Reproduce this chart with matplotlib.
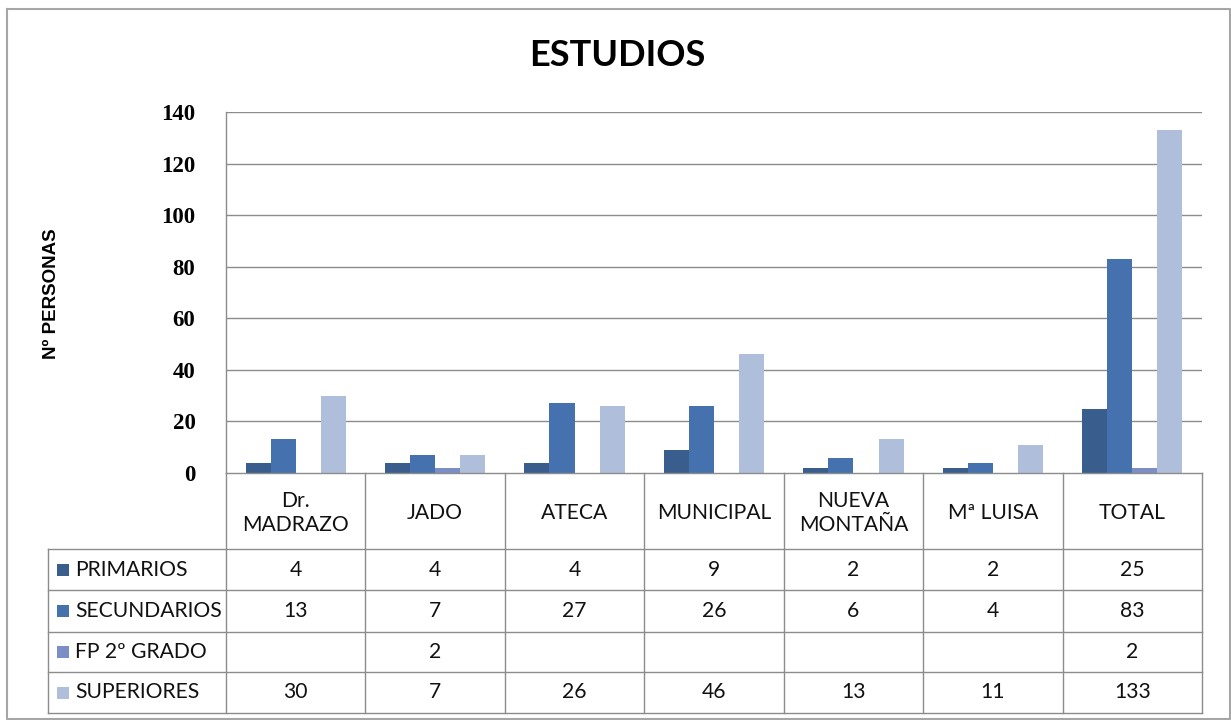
import matplotlib
matplotlib.use("Agg")
import matplotlib.pyplot as plt
import numpy as np

# data
centros = ["Dr.\nMADRAZO", "JADO", "ATECA", "MUNICIPAL", "NUEVA\nMONTAÑA", "Mª LUISA", "TOTAL"]
series = ["PRIMARIOS", "SECUNDARIOS", "FP 2º GRADO", "SUPERIORES"]
primarios = [4, 4, 4, 9, 2, 2, 25]
secundarios = [13, 7, 27, 26, 6, 4, 83]
fp_grado = [None, 2, None, None, None, None, 2]
superiores = [30, 7, 26, 46, 13, 11, 133]
yticks = [0, 20, 40, 60, 80, 100, 120, 140]

colores = ["#395E8E", "#4571AF", "#7B8FC6", "#AFBFDB"]
valores = [primarios, secundarios, fp_grado, superiores]

W, H = 1231, 720
fig = plt.figure(figsize=(W / 100, H / 100), dpi=100)

# layout in pixels
x_left, x_right = 226, 1202
y_top, y_zero = 112, 473
tab_left = 48
row_lines = [473, 549, 590, 632, 672, 713]
grid_col = "#8C8C8C"

ax = fig.add_axes([x_left / W, 1 - y_zero / H, (x_right - x_left) / W, (y_zero - y_top) / H])
n = len(centros)
x = np.arange(n) + 0.5
bw = 0.18
for i, (vals, col) in enumerate(zip(valores, colores)):
    h = [np.nan if v is None else v for v in vals]
    ax.bar(x + (i - 1.5) * bw, h, width=bw, color=col, zorder=3, linewidth=0)

ax.set_xlim(0, n)
ax.set_ylim(0, 140)
ax.set_yticks(yticks)
ax.set_yticklabels([str(t) for t in yticks], family="Liberation Serif",
                   fontweight="bold", fontsize=16.5)
ax.tick_params(axis="y", length=0, pad=22)
ax.set_xticks([])
for y in yticks[1:]:
    ax.axhline(y, color=grid_col, lw=1, zorder=1)
for s in ["top", "right", "bottom"]:
    ax.spines[s].set_visible(False)
ax.spines["left"].set_color(grid_col)
ax.spines["left"].set_linewidth(1)

# overlay in pixel coordinates for the data table and frame
ov = fig.add_axes([0, 0, 1, 1], zorder=5)
ov.set_xlim(0, W)
ov.set_ylim(H, 0)
ov.axis("off")
ov.patch.set_alpha(0)

ov.plot([7, 1230, 1230, 7, 7], [9, 9, 719, 719, 9], color="#A6A6A6", lw=1.5)

col_w = (x_right - x_left) / n
col_edges = [x_left + k * col_w for k in range(n + 1)]

# horizontal table lines
ov.plot([x_left, x_right], [row_lines[0], row_lines[0]], color=grid_col, lw=1)
for y in row_lines[1:]:
    ov.plot([tab_left, x_right], [y, y], color=grid_col, lw=1)
# vertical table lines
for xe in col_edges:
    ov.plot([xe, xe], [row_lines[0], row_lines[-1]], color=grid_col, lw=1)
ov.plot([tab_left, tab_left], [row_lines[1], row_lines[-1]], color=grid_col, lw=1)

fam = ["Lato", "DejaVu Sans"]
fs = 15.2
txt_col = "#111111"
for j, c in enumerate(centros):
    cx = (col_edges[j] + col_edges[j + 1]) / 2
    ov.text(cx, (row_lines[0] + row_lines[1]) / 2 + 2, c, ha="center", va="center",
            family=fam, fontsize=fs, color=txt_col, linespacing=1.3)

for i, (name, vals, col) in enumerate(zip(series, valores, colores)):
    yc = (row_lines[i + 1] + row_lines[i + 2]) / 2
    ov.add_patch(plt.Rectangle((57, yc - 6), 12, 12, color=col, lw=0))
    ov.text(75, yc, name, ha="left", va="center", family=fam, fontsize=fs, color=txt_col)
    for j, v in enumerate(vals):
        if v is None:
            continue
        cx = (col_edges[j] + col_edges[j + 1]) / 2
        ov.text(cx, yc, str(v), ha="center", va="center", family=fam,
                fontsize=fs, color=txt_col)

ov.text(617, 55, "ESTUDIOS", ha="center", va="center", family=fam,
        fontweight="bold", fontsize=26, color="#000000")
ov.text(52, 294, "Nº PERSONAS", ha="center", va="center", rotation=90,
        family=["Liberation Sans", "DejaVu Sans"], fontweight="bold", fontsize=13.5)

fig.savefig("out.png", dpi=100)
